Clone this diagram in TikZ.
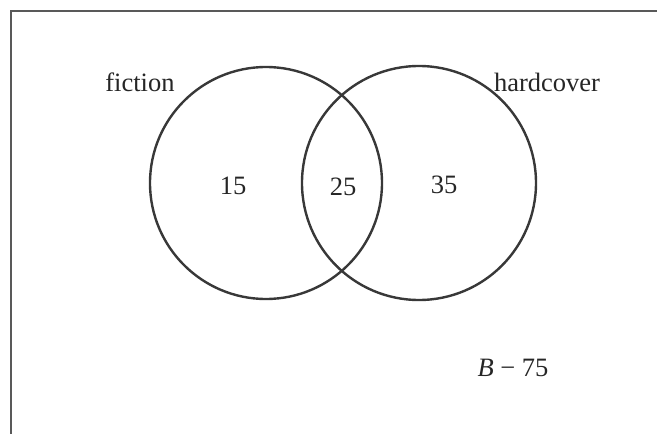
\documentclass[tikz,border=0pt]{standalone}
\usepackage{fontspec}
\setmainfont{Liberation Serif}
\begin{document}
\begin{tikzpicture}[x=1pt,y=-1pt,
  setline/.style={draw=black!78,line width=2.4pt},
  frameline/.style={draw=black!65,line width=2.8pt},
  lbl/.style={font=\fontsize{26.5}{30}\selectfont,text=black!85,inner sep=0pt}]
\useasboundingbox (0,0) rectangle (657,434);
\coordinate (fbl) at (11,434);
\coordinate (ftl) at (11,11);
\coordinate (ftr) at (657,11);
\draw[frameline] (fbl) -- (ftl) -- (ftr);
\node[setline,circle,minimum size=232pt,inner sep=0pt] (F) at (266,183) {};
\node[setline,circle,minimum size=234pt,inner sep=0pt] (H) at (419,183) {};
\node[lbl] (fic) at (140,82) {fiction};
\node[lbl] (hard) at (547,82) {hardcover};
\node[lbl] (a) at (233,186) {15};
\node[lbl] (b) at (343,187) {25};
\node[lbl] (c) at (444,185) {35};
\node[lbl] (u) at (513,368) {\textit{B} − 75};
\end{tikzpicture}
\end{document}
